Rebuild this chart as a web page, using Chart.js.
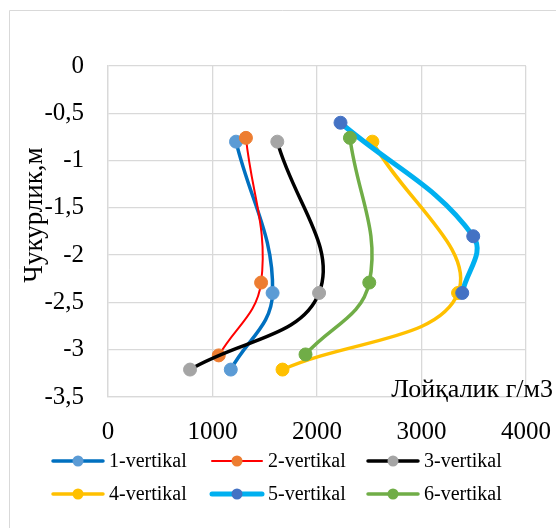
<!DOCTYPE html>
<html>
<head>
<meta charset="utf-8">
<script src="https://cdn.jsdelivr.net/npm/chart.js@4.4.1/dist/chart.umd.min.js"></script>
<style>
  html, body { margin: 0; padding: 0; background: #fff; }
  #wrap { position: relative; width: 556px; height: 528px; }
  canvas { display: block; }
</style>
</head>
<body>
<div id="wrap"><canvas id="c" width="556" height="528"></canvas></div>
<script>
// Turbidity (g/m3) measured at three depths on each vertical
const seriesNames = ['1-vertikal', '2-vertikal', '3-vertikal', '4-vertikal', '5-vertikal', '6-vertikal'];

const v1Turbidity = [1225, 1575, 1175];
const v1Depth     = [-0.80, -2.40, -3.21];

const v2Turbidity = [1320, 1465, 1060];
const v2Depth     = [-0.76, -2.29, -3.06];

const v3Turbidity = [1620, 2020, 785];
const v3Depth     = [-0.80, -2.40, -3.21];

const v4Turbidity = [2530, 3350, 1670];
const v4Depth     = [-0.80, -2.40, -3.21];

const v5Turbidity = [2225, 3495, 3390];
const v5Depth     = [-0.60, -1.80, -2.40];

const v6Turbidity = [2315, 2500, 1890];
const v6Depth     = [-0.76, -2.29, -3.05];

const xTickValues = [0, 1000, 2000, 3000, 4000];
const yTickValues = [0, -0.5, -1, -1.5, -2, -2.5, -3, -3.5];

const xTitle = 'Лойқалик г/м3';
const yTitle = 'Чукурлик,м';

// styling per series: line colour, marker colour, line width
const styles = [
  { line: '#0070C0', mark: '#5B9BD5', w: 3.5 },
  { line: '#FF0000', mark: '#ED7D31', w: 2 },
  { line: '#000000', mark: '#A5A5A5', w: 3.5 },
  { line: '#FFC000', mark: '#FFC000', w: 3.5 },
  { line: '#00B0F0', mark: '#4472C4', w: 5 },
  { line: '#70AD47', mark: '#70AD47', w: 3.5 }
];

const turbidity = [v1Turbidity, v2Turbidity, v3Turbidity, v4Turbidity, v5Turbidity, v6Turbidity];
const depth = [v1Depth, v2Depth, v3Depth, v4Depth, v5Depth, v6Depth];

const datasets = seriesNames.map((name, i) => ({
  label: name,
  data: turbidity[i].map((x, k) => ({ x: x, y: depth[i][k] })),
  showLine: true,
  tension: 0.4,
  borderColor: styles[i].line,
  borderWidth: styles[i].w,
  backgroundColor: styles[i].mark,
  pointBackgroundColor: styles[i].mark,
  pointBorderColor: styles[i].mark,
  pointBorderWidth: 1,
  pointRadius: 6.5,
  pointHoverRadius: 6.5,
  order: -i
}));

const FONT = "'Liberation Serif', 'Times New Roman', serif";
const GRID = '#D9D9D9';
const PLOT = { left: 108, right: 526, top: 66, bottom: 397 };

// outer frame, axis titles and the two-row legend
const decorations = {
  id: 'decorations',
  beforeDraw(chart) {
    const ctx = chart.ctx;
    ctx.save();
    ctx.strokeStyle = GRID;
    ctx.lineWidth = 1;
    ctx.beginPath();
    ctx.moveTo(9.5, 528);
    ctx.lineTo(9.5, 10.5);
    ctx.lineTo(556, 10.5);
    ctx.stroke();
    ctx.restore();
  },
  afterDraw(chart) {
    const ctx = chart.ctx;
    ctx.save();
    ctx.fillStyle = '#000';
    // y title
    ctx.font = '27px ' + FONT;
    ctx.translate(35, 215);
    ctx.rotate(-Math.PI / 2);
    ctx.textAlign = 'center';
    ctx.textBaseline = 'middle';
    ctx.fillText(yTitle, 0, 0);
    ctx.restore();

    ctx.save();
    ctx.fillStyle = '#000';
    ctx.font = '26px ' + FONT;
    ctx.textAlign = 'right';
    ctx.textBaseline = 'alphabetic';
    ctx.fillText(xTitle, 553, 397);
    ctx.restore();

    // legend
    const cols = [53, 212, 368];
    const rows = [461, 494];
    ctx.save();
    ctx.font = '20px ' + FONT;
    ctx.textBaseline = 'middle';
    ctx.textAlign = 'left';
    chart.data.datasets.forEach((ds, i) => {
      const x0 = cols[i % 3];
      const y0 = rows[Math.floor(i / 3)];
      ctx.strokeStyle = ds.borderColor;
      ctx.lineWidth = ds.borderWidth;
      ctx.lineCap = 'round';
      ctx.beginPath();
      ctx.moveTo(x0, y0);
      ctx.lineTo(x0 + 50, y0);
      ctx.stroke();
      ctx.fillStyle = ds.pointBackgroundColor;
      ctx.beginPath();
      ctx.arc(x0 + 25, y0, 5.5, 0, Math.PI * 2);
      ctx.fill();
      ctx.fillStyle = '#000';
      ctx.fillText(ds.label, x0 + 56, y0 + 1);
    });
    ctx.restore();
  }
};

new Chart(document.getElementById('c'), {
  type: 'scatter',
  data: { datasets: datasets },
  options: {
    responsive: false,
    animation: false,
    events: [],
    layout: { padding: { left: 0, right: 556 - PLOT.right, top: PLOT.top, bottom: 81 } },
    plugins: {
      legend: { display: false },
      tooltip: { enabled: false }
    },
    scales: {
      x: {
        type: 'linear',
        min: xTickValues[0],
        max: xTickValues[xTickValues.length - 1],
        afterBuildTicks(scale) { scale.ticks = xTickValues.map(v => ({ value: v })); },
        afterFit(scale) { scale.height = 50; scale.paddingLeft = 0; scale.paddingRight = 0; },
        grid: { color: GRID, lineWidth: 1.3, drawTicks: false },
        border: { color: GRID, width: 1.3 },
        ticks: {
          color: '#000',
          font: { family: FONT, size: 25 },
          padding: 20,
          maxRotation: 0,
          autoSkip: false,
          callback: v => String(v)
        }
      },
      y: {
        type: 'linear',
        min: yTickValues[yTickValues.length - 1],
        max: yTickValues[0],
        afterBuildTicks(scale) { scale.ticks = yTickValues.map(v => ({ value: v })); },
        afterFit(scale) { scale.width = PLOT.left; scale.paddingTop = 0; scale.paddingBottom = 0; },
        grid: { color: GRID, lineWidth: 1.3, drawTicks: false },
        border: { color: GRID, width: 1.3 },
        ticks: {
          color: '#000',
          font: { family: FONT, size: 25 },
          padding: 24,
          autoSkip: false,
          callback: v => String(v).replace('.', ',')
        }
      }
    }
  },
  plugins: [decorations]
});
</script>
</body>
</html>
